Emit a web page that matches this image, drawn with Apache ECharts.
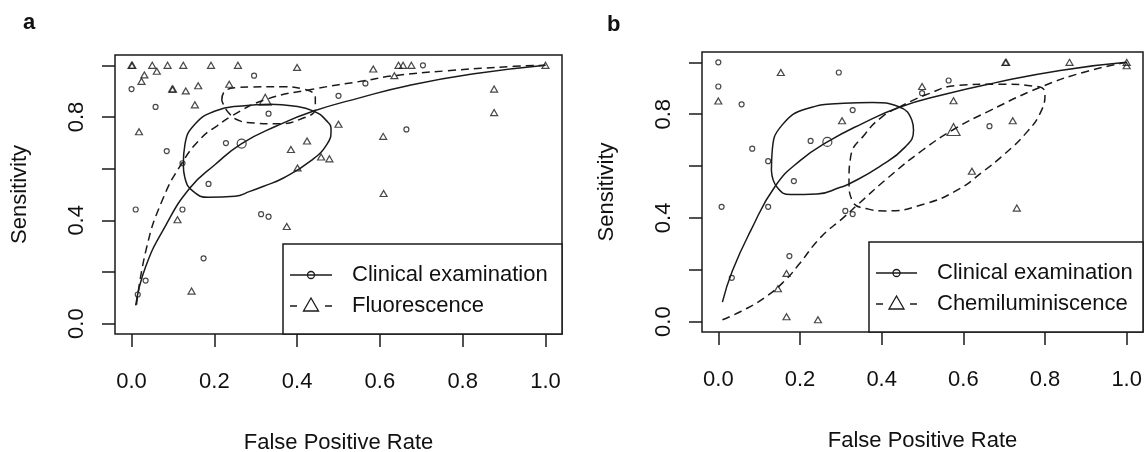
<!DOCTYPE html>
<html>
<head>
<meta charset="utf-8">
<script src="https://cdn.jsdelivr.net/npm/echarts@6/dist/echarts.min.js"></script>
<style>
  html, body { margin: 0; padding: 0; background: #fff; }
  #chart { width: 1144px; height: 452px; }
</style>
</head>
<body>
<div id="chart"></div>
<script>
// tick positions and labels
const xTicks = [0, 0.2, 0.4, 0.6, 0.8, 1.0]
const yTicks = [0, 0.2, 0.4, 0.6, 0.8, 1.0]
const yLabels = [0, 0.4, 0.8]

// panel a: study points [FPR, sensitivity]
const clinPtsA = [[0.0, 0.908], [0.058, 0.839], [0.085, 0.668], [0.123, 0.621], [0.228, 0.699], [0.186, 0.541],
  [0.01, 0.442], [0.123, 0.442], [0.174, 0.253], [0.034, 0.167], [0.015, 0.113], [0.296, 0.96], [0.331, 0.813],
  [0.5, 0.882], [0.565, 0.93], [0.664, 0.752], [0.313, 0.424], [0.331, 0.414], [0.704, 1.0]]
const fluoPtsA = [[0.0, 1.0], [0.002, 1.0], [0.05, 1.0], [0.087, 1.0], [0.125, 1.0], [0.192, 1.0], [0.257, 1.0],
  [0.031, 0.963], [0.024, 0.938], [0.061, 0.977], [0.098, 0.908], [0.1, 0.908], [0.131, 0.901], [0.161, 0.921],
  [0.236, 0.927], [0.153, 0.847], [0.018, 0.743], [0.111, 0.402], [0.145, 0.126], [0.4, 0.992], [0.584, 0.986],
  [0.645, 1.0], [0.656, 1.0], [0.676, 1.0], [0.635, 0.96], [0.5, 0.772], [0.424, 0.707], [0.385, 0.674],
  [0.458, 0.645], [0.478, 0.638], [0.401, 0.603], [0.608, 0.725], [0.609, 0.504], [0.375, 0.376],
  [0.876, 0.908], [0.876, 0.817], [1.0, 1.0]]
const clinSumA = [[0.266, 0.697]]
const fluoSumA = [[0.323, 0.867]]
const clinCurveA = [[0.01, 0.071], [0.034, 0.22], [0.081, 0.376], [0.141, 0.525], [0.202, 0.616], [0.266, 0.697],
  [0.35, 0.765], [0.44, 0.823], [0.553, 0.875], [0.67, 0.922], [0.823, 0.966], [1.0, 1.0]]
const fluoCurveA = [[0.012, 0.074], [0.036, 0.292], [0.073, 0.473], [0.121, 0.62], [0.169, 0.72], [0.206, 0.765],
  [0.242, 0.804], [0.323, 0.867], [0.44, 0.908], [0.561, 0.94], [0.635, 0.96], [0.763, 0.979], [0.924, 0.996], [1.0, 1.0]]
const clinEllA = [[0.125, 0.616], [0.129, 0.694], [0.153, 0.772], [0.202, 0.823], [0.266, 0.843], [0.335, 0.849],
  [0.391, 0.843], [0.44, 0.823], [0.472, 0.784], [0.482, 0.752], [0.472, 0.694], [0.432, 0.629], [0.367, 0.564],
  [0.319, 0.532], [0.286, 0.512], [0.25, 0.493], [0.186, 0.489], [0.149, 0.512], [0.129, 0.564], [0.125, 0.616]]
const fluoEllA = [[0.218, 0.865], [0.226, 0.901], [0.258, 0.914], [0.286, 0.916], [0.367, 0.917], [0.415, 0.908],
  [0.444, 0.875], [0.444, 0.835], [0.407, 0.791], [0.351, 0.774], [0.286, 0.778], [0.262, 0.785], [0.234, 0.817],
  [0.218, 0.865]]

// panel b
const clinPtsB = [[0.0, 1.0], [0.0, 0.907], [0.295, 0.961], [0.057, 0.838], [0.083, 0.667], [0.122, 0.619],
  [0.226, 0.697], [0.185, 0.542], [0.008, 0.443], [0.122, 0.443], [0.174, 0.253], [0.033, 0.169], [0.499, 0.881],
  [0.564, 0.93], [0.664, 0.754], [0.329, 0.816], [0.311, 0.427], [0.329, 0.415]]
const chemPtsB = [[0.153, 0.961], [0.0, 0.851], [0.303, 0.775], [0.167, 0.186], [0.146, 0.127], [0.167, 0.019],
  [0.244, 0.007], [0.499, 0.907], [0.576, 0.852], [0.621, 0.58], [0.703, 1.0], [0.705, 1.0], [0.86, 1.0],
  [1.0, 1.0], [1.0, 0.987], [0.721, 0.775], [0.731, 0.438]]
const clinSumB = [[0.267, 0.693]]
const chemSumB = [[0.576, 0.741]]
const clinCurveB = [[0.01, 0.075], [0.034, 0.194], [0.079, 0.35], [0.14, 0.524], [0.201, 0.622], [0.267, 0.693],
  [0.35, 0.762], [0.442, 0.826], [0.55, 0.875], [0.674, 0.92], [0.837, 0.969], [1.0, 1.0]]
const chemCurveB = [[0.01, 0.007], [0.055, 0.039], [0.112, 0.091], [0.161, 0.155], [0.197, 0.22], [0.25, 0.324],
  [0.307, 0.402], [0.344, 0.455], [0.417, 0.557], [0.499, 0.66], [0.576, 0.741], [0.66, 0.81], [0.79, 0.905],
  [0.902, 0.965], [1.0, 1.0]]
const clinEllB = [[0.13, 0.583], [0.132, 0.66], [0.156, 0.758], [0.218, 0.822], [0.307, 0.842], [0.377, 0.845],
  [0.442, 0.829], [0.474, 0.777], [0.478, 0.738], [0.458, 0.674], [0.393, 0.596], [0.32, 0.531], [0.299, 0.518],
  [0.242, 0.492], [0.177, 0.49], [0.144, 0.518], [0.13, 0.583]]
const chemEllB = [[0.442, 0.826], [0.507, 0.874], [0.588, 0.911], [0.686, 0.916], [0.78, 0.907], [0.8, 0.881],
  [0.79, 0.81], [0.755, 0.73], [0.7, 0.645], [0.645, 0.575], [0.588, 0.51], [0.507, 0.455], [0.409, 0.427],
  [0.368, 0.434], [0.328, 0.466], [0.32, 0.544], [0.324, 0.635], [0.36, 0.725], [0.401, 0.79], [0.442, 0.826]]

const INK = '#1a1a1a'
const FONT = 'Liberation Sans, Arial, sans-serif'
const DASH = [8, 5]

function xAx(i) {
  return {
    type: 'value', gridIndex: i, min: -0.04, max: 1.04,
    axisLine: { show: false, onZero: false },
    axisTick: { show: true, length: 13, customValues: xTicks, lineStyle: { color: INK, width: 1.5 } },
    axisLabel: { customValues: xTicks, formatter: v => v.toFixed(1), margin: 37,
      fontSize: 22, fontFamily: FONT, color: '#111' },
    splitLine: { show: false },
    name: 'False Positive Rate', nameLocation: 'middle', nameGap: 98,
    nameTextStyle: { fontSize: 22, fontFamily: FONT, color: '#111' }
  }
}
function yAx(i) {
  return {
    type: 'value', gridIndex: i, min: -0.04, max: 1.04,
    axisLine: { show: false, onZero: false },
    axisTick: { show: true, length: 13, customValues: yTicks, lineStyle: { color: INK, width: 1.5 } },
    axisLabel: { customValues: yLabels, formatter: v => v.toFixed(1), rotate: 90, margin: 27,
      fontSize: 22, fontFamily: FONT, color: '#111' },
    splitLine: { show: false },
    name: 'Sensitivity', nameLocation: 'middle', nameGap: 84, nameRotate: 90,
    nameTextStyle: { fontSize: 22, fontFamily: FONT, color: '#111' }
  }
}
function pts(i, data, symbol, size) {
  return {
    type: 'scatter', xAxisIndex: i, yAxisIndex: i, data, symbol, symbolSize: size,
    itemStyle: { color: 'transparent', borderColor: INK, borderWidth: 1.2 }, z: 3
  }
}
function curve(i, data, dashed) {
  return {
    type: 'line', xAxisIndex: i, yAxisIndex: i, data, showSymbol: false, smooth: true,
    lineStyle: { color: INK, width: 1.5, type: dashed ? DASH : 'solid' }, z: 2
  }
}

// legend drawn as R-style box
function legendBox(x, y, w, h, lx1, lx2, tx, label2) {
  const mx = (lx1 + lx2) / 2
  const r1 = y + 31, r2 = y + 62
  const txt = (t, yy) => ({ type: 'text', z: 11,
    style: { text: t, x: tx, y: yy, font: '22px ' + FONT, fill: '#111', verticalAlign: 'middle' } })
  return [
    { type: 'rect', shape: { x, y, width: w, height: h }, style: { fill: '#fff', stroke: INK, lineWidth: 1.5 }, z: 10 },
    { type: 'line', shape: { x1: lx1, y1: r1, x2: lx2, y2: r1 }, style: { stroke: INK, lineWidth: 1.5 }, z: 11 },
    { type: 'circle', shape: { cx: mx, cy: r1, r: 3.5 }, style: { fill: 'none', stroke: INK, lineWidth: 1.3 }, z: 11 },
    { type: 'line', shape: { x1: lx1, y1: r2, x2: lx1 + 7, y2: r2 }, style: { stroke: INK, lineWidth: 1.5 }, z: 11 },
    { type: 'line', shape: { x1: lx2 - 7, y1: r2, x2: lx2, y2: r2 }, style: { stroke: INK, lineWidth: 1.5 }, z: 11 },
    { type: 'polygon', shape: { points: [[mx - 7.5, r2 + 5], [mx + 7.5, r2 + 5], [mx, r2 - 8]] },
      style: { fill: 'none', stroke: INK, lineWidth: 1.3 }, z: 11 },
    txt('Clinical examination', r1),
    txt(label2, r2)
  ]
}

const chart = echarts.init(document.getElementById('chart'), null, { renderer: 'canvas' })
chart.setOption({
  animation: false,
  backgroundColor: '#fff',
  grid: [
    { left: 115, top: 55, width: 447, height: 279, show: true, borderColor: INK, borderWidth: 1.5,
      outerBoundsMode: 'none' },
    { left: 702, top: 52, width: 441, height: 280, show: true, borderColor: INK, borderWidth: 1.5,
      outerBoundsMode: 'none' }
  ],
  xAxis: [xAx(0), xAx(1)],
  yAxis: [yAx(0), yAx(1)],
  series: [
    curve(0, clinCurveA, false),
    curve(0, fluoCurveA, true),
    curve(0, clinEllA, false),
    curve(0, fluoEllA, true),
    pts(0, clinPtsA, 'circle', 5),
    pts(0, fluoPtsA, 'triangle', [7, 6]),
    pts(0, clinSumA, 'circle', 9),
    pts(0, fluoSumA, 'triangle', [12, 11]),
    curve(1, clinCurveB, false),
    curve(1, chemCurveB, true),
    curve(1, clinEllB, false),
    curve(1, chemEllB, true),
    pts(1, clinPtsB, 'circle', 5),
    pts(1, chemPtsB, 'triangle', [7, 6]),
    pts(1, clinSumB, 'circle', 9),
    pts(1, chemSumB, 'triangle', [13, 12])
  ],
  graphic: [
    { type: 'text', style: { text: 'a', x: 23, y: 23, font: 'bold 22px ' + FONT, fill: '#111', verticalAlign: 'middle' } },
    { type: 'text', style: { text: 'b', x: 607, y: 25, font: 'bold 22px ' + FONT, fill: '#111', verticalAlign: 'middle' } },
    ...legendBox(283, 244, 279, 90, 290, 332, 352, 'Fluorescence'),
    ...legendBox(869, 242, 274, 90, 876, 917, 937, 'Chemiluminiscence')
  ]
})
</script>
</body>
</html>
